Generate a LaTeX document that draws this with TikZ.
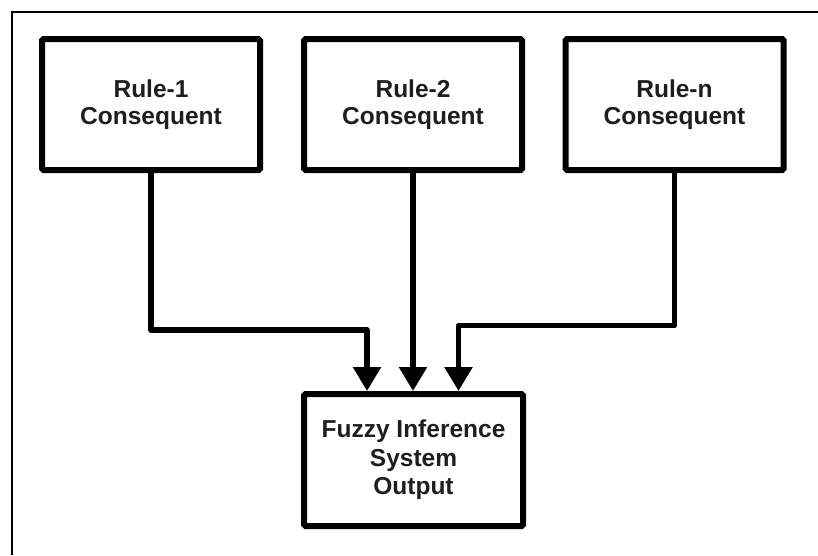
\documentclass[tikz,border=0pt]{standalone}
\usepackage{fontspec}
\setmainfont{Liberation Sans}
\usetikzlibrary{arrows.meta}
\definecolor{txt}{HTML}{1E1E1E}
\begin{document}
\begin{tikzpicture}[x=1pt,y=-1pt,
  box/.style={draw=black, line width=6pt, fill=white, rounded corners=1.5pt,
    minimum width=218pt, minimum height=131pt, inner sep=0pt, align=center,
    text=txt, font=\fontsize{24.5}{27.5}\selectfont\bfseries},
  conn/.style={draw=black, line width=5.5pt, line join=round,
    -{Triangle[length=24pt,width=27pt]}},
  frame/.style={draw=black, line width=1.6pt}]
\useasboundingbox (0,0) rectangle (818,555);
\draw[frame] (12,555) -- (12,12) -- (818,12);
\node[box] (r1) at (151,104.5) {Rule-1\\Consequent};
\node[box] (r2) at (413,104.5) {Rule-2\\Consequent};
\node[box] (rn) at (674.5,104.5) {Rule-n\\Consequent};
\node[box, minimum width=219pt, minimum height=132pt,
  font=\fontsize{24.5}{28.5}\selectfont\bfseries] (fz) at (413.5,460)
  {Fuzzy Inference\\System\\Output};
\coordinate (c1) at (367,330);
\coordinate (cn) at (458.5,325.5);
\draw[conn] (r1.south) |- (c1) -- (c1 |- fz.north);
\draw[conn] (r2.south) -- (r2.south |- fz.north);
\draw[conn] (rn.south) |- (cn) -- (cn |- fz.north);
\end{tikzpicture}
\end{document}
